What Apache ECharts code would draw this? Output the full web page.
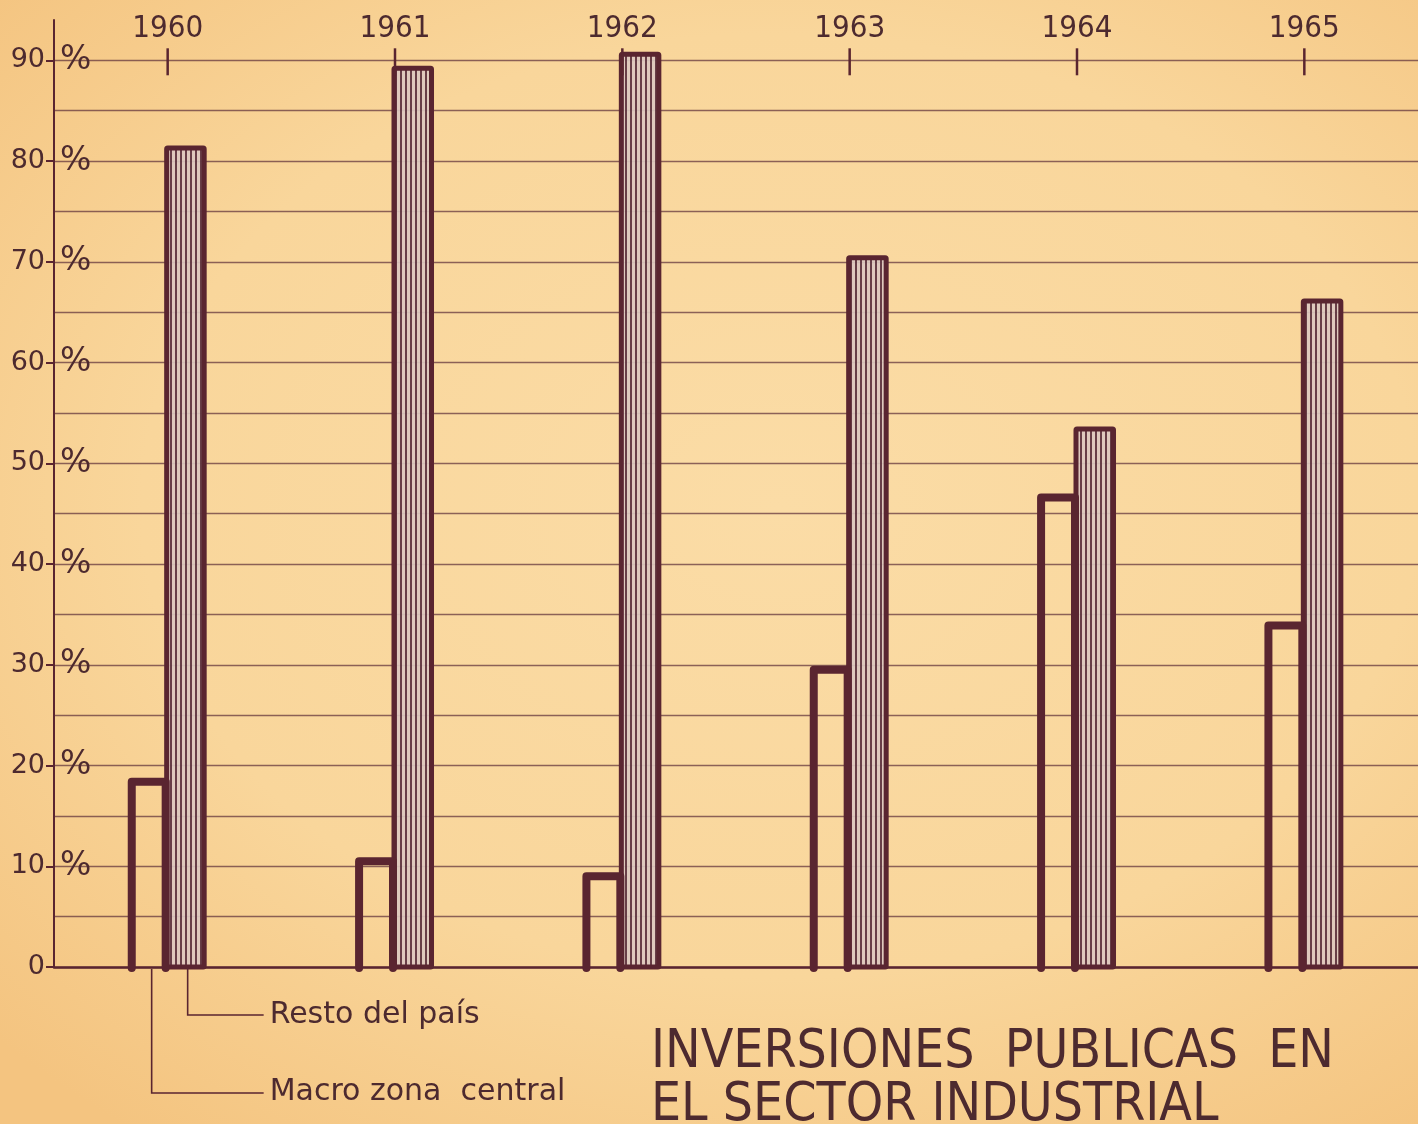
<!DOCTYPE html>
<html>
<head>
<meta charset="utf-8">
<script src="https://cdn.jsdelivr.net/npm/echarts@6/dist/echarts.min.js"></script>
<style>
  html, body { margin: 0; padding: 0; width: 1418px; height: 1124px; overflow: hidden; }
  body { background: radial-gradient(ellipse 75% 70% at 55% 45%, #fbdca6 0%, #f9d69b 60%, #f4c480 100%); }
  #chart { width: 1418px; height: 1124px; }
</style>
</head>
<body>
<div id="chart"></div>
<script>
// Public investment in the industrial sector, share per year (%)
const years = ['1960', '1961', '1962', '1963', '1964', '1965'];
const macroZonaCentral = [18.4, 10.5, 9.0, 29.5, 46.6, 33.9];
const restoDelPais = [81.3, 89.2, 90.6, 70.4, 53.4, 66.1];

const INK = '#5a2530';
const TEXT = '#4d2a2f';
const GRID = 'rgba(95, 50, 58, 0.72)';
const NUM_FONT = "'DejaVu Sans', sans-serif";
const YEAR_FONT = "'Liberation Sans Narrow', 'DejaVu Sans Condensed', sans-serif";
const TOP_LINE = 90; // value of the uppermost rule, where the year marks sit

// vertical stripe fill for the "Resto del país" bars
function stripePattern() {
  const c = document.createElement('canvas');
  c.width = 5; c.height = 8;
  const g = c.getContext('2d');
  g.fillStyle = 'rgba(220, 200, 192, 0.92)';
  g.fillRect(0, 0, 5, 8);
  g.fillStyle = 'rgba(88, 42, 55, 0.88)';
  g.fillRect(0, 0, 2, 8);
  return c;
}
const stripes = { image: stripePattern(), repeat: 'repeat' };

const chart = echarts.init(document.getElementById('chart'), null, { renderer: 'canvas' });

const option = {
  backgroundColor: 'transparent',
  animation: false,
  title: {
    text: 'INVERSIONES  PUBLICAS  EN\nEL SECTOR INDUSTRIAL',
    left: 646,
    top: 1022,
    textStyle: {
      fontFamily: "'DejaVu Sans Condensed', sans-serif",
      fontWeight: 'normal',
      fontSize: 53,
      lineHeight: 53,
      color: TEXT
    }
  },
  grid: { left: 54, right: 0, top: 20, bottom: 157, containLabel: false },
  xAxis: [
    {
      type: 'category',
      data: years,
      position: 'bottom',
      boundaryGap: true,
      axisLine: { show: true, lineStyle: { color: INK, width: 2.5 } },
      axisTick: { show: false },
      axisLabel: { show: false },
      splitLine: { show: false }
    },
    {
      type: 'category',
      data: years,
      position: 'top',
      offset: -28,
      boundaryGap: true,
      axisLine: { show: false },
      axisTick: { show: false },
      axisLabel: { show: true, margin: 4, fontSize: 31, color: TEXT, fontFamily: YEAR_FONT },
      splitLine: { show: false }
    }
  ],
  yAxis: [
    {
      type: 'value',
      min: 0,
      max: 94,
      interval: 10,
      position: 'left',
      axisLine: { show: true, lineStyle: { color: INK, width: 2 } },
      axisTick: { show: true, length: 8, lineStyle: { color: INK, width: 2 } },
      axisLabel: {
        margin: 9,
        fontSize: 27,
        color: TEXT,
        fontFamily: NUM_FONT,
        showMaxLabel: false,
        formatter: v => (v <= 90 ? String(v) : '')
      },
      splitLine: { show: true, showMaxLine: false, lineStyle: { color: GRID, width: 1.3 } },
      minorTick: { show: false, splitNumber: 2 },
      minorSplitLine: { show: true, lineStyle: { color: GRID, width: 1.3 } }
    },
    {
      type: 'value',
      min: 0,
      max: 94,
      interval: 10,
      position: 'left',
      axisLine: { show: false },
      axisTick: { show: false },
      splitLine: { show: false },
      axisLabel: {
        inside: true,
        margin: 6,
        fontSize: 33,
        color: TEXT,
        fontFamily: NUM_FONT,
        showMaxLabel: false,
        formatter: v => (v > 0 && v <= 90 ? '%' : '')
      }
    }
  ],
  series: [
    {
      name: 'Macro zona central',
      type: 'custom',
      xAxisIndex: 0,
      yAxisIndex: 0,
      encode: { x: 0, y: 1 },
      data: years.map((y, i) => [i, macroZonaCentral[i]]),
      z: 3,
      renderItem(params, api) {
        const i = api.value(0);
        const base = api.coord([i, 0]);
        const top = api.coord([i, api.value(1)]);
        const band = api.size([1, 0])[0];
        const c = base[0];
        const w = band * 0.158;
        return {
          type: 'polyline',
          shape: { points: [[c - w, base[1] + 1], [c - w, top[1]], [c - 2, top[1]], [c - 2, base[1] + 1]] },
          style: { stroke: INK, lineWidth: 8, fill: null, lineJoin: 'round', lineCap: 'round' }
        };
      }
    },
    {
      name: 'Resto del país',
      type: 'custom',
      xAxisIndex: 0,
      yAxisIndex: 0,
      encode: { x: 0, y: 1 },
      data: years.map((y, i) => [i, restoDelPais[i]]),
      z: 2,
      renderItem(params, api) {
        const i = api.value(0);
        const base = api.coord([i, 0]);
        const top = api.coord([i, api.value(1)]);
        const band = api.size([1, 0])[0];
        const c = base[0];
        const w = band * 0.165;
        return {
          type: 'rect',
          shape: { x: c - 1, y: top[1], width: w, height: base[1] - top[1], r: 1 },
          style: { fill: stripes, stroke: INK, lineWidth: 5, lineJoin: 'round' }
        };
      }
    },
    {
      // short year marks crossing the top rule, one per category
      name: 'year marks',
      type: 'custom',
      xAxisIndex: 0,
      yAxisIndex: 0,
      encode: { x: 0, y: 1 },
      data: years.map((y, i) => [i, TOP_LINE]),
      z: 4,
      silent: true,
      renderItem(params, api) {
        const p = api.coord([api.value(0), api.value(1)]);
        return {
          type: 'line',
          shape: { x1: p[0], y1: p[1] - 12, x2: p[0], y2: p[1] + 15 },
          style: { stroke: INK, lineWidth: 2.5 }
        };
      }
    }
  ]
};

chart.setOption(option);

// leader lines from the first pair of bars to the series names
const c0 = chart.convertToPixel({ xAxisIndex: 0 }, years[0]);
const y0 = chart.convertToPixel({ yAxisIndex: 0 }, 0);
const macroX = c0 - 16;
const restoX = c0 + 20;
const labelX = c0 + 102;

chart.setOption({
  graphic: [
    {
      type: 'polyline',
      shape: { points: [[restoX, y0 + 2], [restoX, 1015], [labelX - 6, 1015]] },
      style: { stroke: INK, lineWidth: 1.6, fill: null }
    },
    {
      type: 'polyline',
      shape: { points: [[macroX, y0 + 2], [macroX, 1093], [labelX - 6, 1093]] },
      style: { stroke: INK, lineWidth: 1.6, fill: null }
    },
    {
      type: 'text',
      x: labelX,
      y: 1015,
      style: { text: 'Resto del país', fill: TEXT, font: "30px 'DejaVu Sans', sans-serif", verticalAlign: 'middle' }
    },
    {
      type: 'text',
      x: labelX,
      y: 1092,
      style: { text: 'Macro zona  central', fill: TEXT, font: "30px 'DejaVu Sans', sans-serif", verticalAlign: 'middle' }
    }
  ]
});
</script>
</body>
</html>
